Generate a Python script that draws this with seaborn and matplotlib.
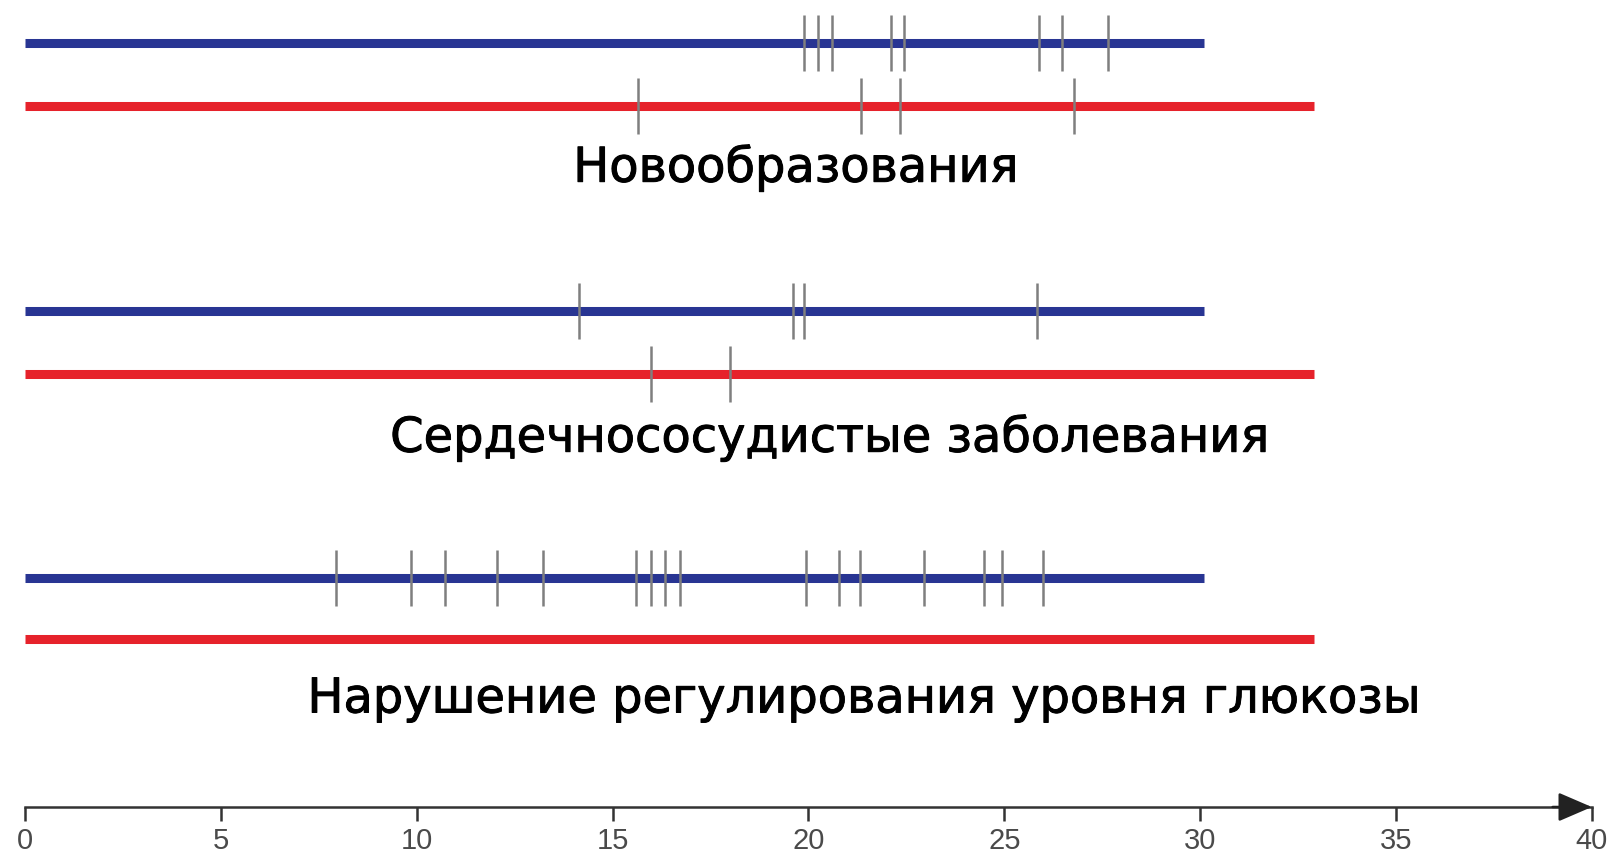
import pandas as pd
import numpy as np
import seaborn as sns
import matplotlib.pyplot as plt
import matplotlib.patheffects as pe

sns.set_style('white')
plt.rcParams['font.family'] = ['DejaVu Sans']

# data: follow-up time (years) and event times per group
groups = ['Новообразования',
          'Сердечнососудистые заболевания',
          'Нарушение регулирования уровня глюкозы']
blue_end = 30.11
red_end = 32.91
blue_events = [
    [19.88, 20.25, 20.59, 22.10, 22.45, 25.88, 26.47, 27.66],
    [14.14, 19.60, 19.89, 25.84],
    [7.94, 9.86, 10.73, 12.04, 13.22, 15.61, 15.97, 16.34, 16.71,
     19.94, 20.78, 21.33, 22.96, 24.48, 24.95, 26.00],
]
red_events = [
    [15.64, 21.34, 22.35, 26.77],
    [15.98, 18.00],
    [],
]
xticks = [0, 5, 10, 15, 20, 25, 30, 35, 40]

# layout (pixel rows, figure is 862 px high)
blue_y = [43.5, 311.5, 579]
red_y = [107, 375, 640]
label_y = [169, 439, 700]
label_x = [19.68, 20.53, 21.42]
axis_y = 808
BLUE = '#283593'
RED = '#e6222b'

lines = []
events = []
for i in range(len(groups)):
    for end, y, name in [(blue_end, blue_y[i], 'blue'), (red_end, red_y[i], 'red')]:
        lines.append({'x': 0, 'y': y, 'series': name, 'seg': f'{i}{name}'})
        lines.append({'x': end, 'y': y, 'series': name, 'seg': f'{i}{name}'})
    for t in blue_events[i]:
        events.append({'t': t, 'y': blue_y[i]})
    for t in red_events[i]:
        events.append({'t': t, 'y': red_y[i]})
lines = pd.DataFrame(lines)
events = pd.DataFrame(events)

fig = plt.figure(figsize=(16.12, 8.62), dpi=100)
ax = fig.add_axes([0, 0, 1, 1])

sns.lineplot(data=lines, x='x', y='y', hue='series', units='seg', estimator=None,
             palette={'blue': BLUE, 'red': RED}, linewidth=6.5, sort=False,
             legend=False, ax=ax, solid_capstyle='butt', zorder=2)
sns.scatterplot(data=events, x='t', y='y', marker='|', s=1681, color='#7f7f7f',
                linewidth=1.8, legend=False, ax=ax, zorder=3)

for name, x, y in zip(groups, label_x, label_y):
    ax.text(x, y, name, ha='center', va='center', fontsize=34.5, color='black',
            path_effects=[pe.withStroke(linewidth=0.7, foreground='black')])

ax.set_xlim(-25 / 39.17, (1612 - 25) / 39.17)
ax.set_ylim(862, 0)

for s in ['top', 'left', 'right']:
    ax.spines[s].set_visible(False)
ax.spines['bottom'].set_position(('data', axis_y))
ax.spines['bottom'].set_bounds(0, 40)
ax.spines['bottom'].set_color('#333333')
ax.spines['bottom'].set_linewidth(1.8)
ax.set_xticks(xticks)
ax.set_xticklabels([str(v) for v in xticks], family='Liberation Sans')
ax.tick_params(axis='x', direction='out', length=10, width=1.8, color='#333333',
               labelsize=21, labelcolor='#4a4a4a', pad=4, bottom=True)
ax.set_yticks([])
ax.set_xlabel('')
ax.set_ylabel('')
ax.annotate('', xy=(40, axis_y), xytext=(39, axis_y),
            arrowprops=dict(arrowstyle='-|>,head_length=0.65,head_width=0.28',
                            color='#222222', lw=1.8,
                            mutation_scale=32, shrinkA=0, shrinkB=0))

fig.savefig('out.png', dpi=100)
